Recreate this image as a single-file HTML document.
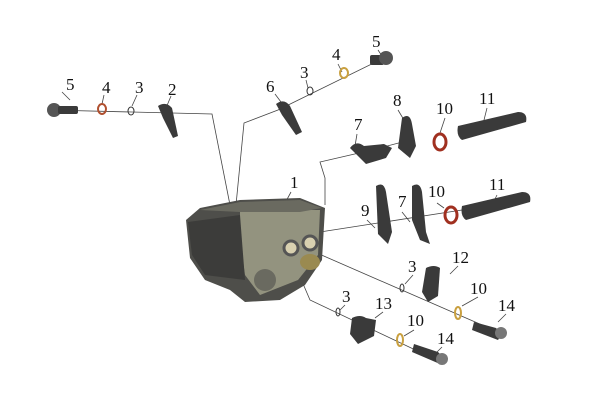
<!DOCTYPE html>
<html><head><style>
html,body{margin:0;padding:0;background:#fff;}
svg{display:block}
text{font-family:"Liberation Serif",serif;font-size:17px;fill:#111}
</style></head><body>
<svg width="600" height="413" viewBox="0 0 600 413" xmlns="http://www.w3.org/2000/svg">
<g stroke="#444" stroke-width="0.8" fill="none">
<polyline points="50,110 212,114 230,205"/>
<polyline points="392,54 278,110 244,123 236,205"/>
<polyline points="410,140 372,150 320,162 325,178 325,205"/>
<line x1="320" y1="232" x2="462" y2="210"/>
<line x1="310" y1="250" x2="505" y2="335"/>
<polyline points="298,272 310,300 445,364"/>
<line x1="62" y1="92" x2="70" y2="100"/><line x1="104" y1="95" x2="102" y2="104"/>
<line x1="137" y1="95" x2="132" y2="106"/><line x1="171" y1="96" x2="166" y2="108"/>
<line x1="275" y1="94" x2="281" y2="102"/><line x1="306" y1="80" x2="308" y2="88"/>
<line x1="338" y1="64" x2="342" y2="72"/><line x1="378" y1="50" x2="382" y2="56"/>
<line x1="291" y1="192" x2="284" y2="205"/><line x1="357" y1="134" x2="355" y2="146"/>
<line x1="398" y1="110" x2="404" y2="120"/><line x1="445" y1="118" x2="440" y2="133"/>
<line x1="487" y1="108" x2="484" y2="120"/><line x1="367" y1="220" x2="375" y2="228"/>
<line x1="402" y1="212" x2="410" y2="222"/><line x1="437" y1="203" x2="444" y2="208"/>
<line x1="497" y1="195" x2="492" y2="205"/><line x1="458" y1="266" x2="450" y2="274"/>
<line x1="413" y1="275" x2="405" y2="284"/><line x1="478" y1="297" x2="462" y2="306"/>
<line x1="506" y1="314" x2="498" y2="322"/><line x1="345" y1="305" x2="340" y2="310"/>
<line x1="383" y1="312" x2="375" y2="318"/><line x1="414" y1="330" x2="404" y2="336"/>
<line x1="442" y1="347" x2="437" y2="352"/>
</g>
<!-- cylinder head -->
<polygon points="186,220 200,208 240,200 300,198 325,208 322,260 305,285 280,300 245,302 230,290 205,280 190,258" fill="#4e4e4a"/>
<polygon points="240,210 320,210 318,255 298,280 260,295 245,275 240,240" fill="#93937f"/>
<polygon points="188,222 240,215 245,280 205,275 192,255" fill="#3c3c3a"/>
<polygon points="200,210 240,202 300,200 322,208 300,212 240,212" fill="#6a6a60"/>
<circle cx="291" cy="248" r="7" fill="#d8d0b0" stroke="#555" stroke-width="3"/>
<circle cx="310" cy="243" r="7" fill="#d8d0b0" stroke="#555" stroke-width="3"/>
<circle cx="265" cy="280" r="11" fill="#6a6a60"/>
<ellipse cx="310" cy="262" rx="10" ry="8" fill="#9a8a50"/>
<g fill="#3a3a3a">
<circle cx="54" cy="110" r="7" fill="#555"/><rect x="58" y="106" width="20" height="8" rx="2"/>
<path d="M158,106 q8,-5 14,2 l6,28 l-5,2 l-10,-20 z"/>
<path d="M276,104 q8,-6 14,2 l12,26 l-6,3 l-14,-20 z"/>
<rect x="370" y="55" width="14" height="10" rx="2"/><circle cx="386" cy="58" r="7" fill="#555"/>
<path d="M350,148 q6,-8 14,-2 l20,-2 l8,4 l-6,10 l-20,6 z"/>
<path d="M402,118 q8,-6 10,6 l4,22 l-6,12 l-12,-10 z"/>
<path d="M376,186 q8,-5 10,6 l6,40 l-4,12 l-10,-10 z"/>
<path d="M412,186 q8,-5 10,6 l4,40 l4,12 l-10,-4 l-8,-20 z"/>
<path d="M426,268 q8,-4 14,0 l-2,28 l-10,6 l-6,-10 z"/>
<path d="M352,318 q8,-4 14,0 l10,2 l-2,16 l-16,8 l-8,-10 z"/>
<path d="M458,126 l60,-14 q10,0 8,10 l-64,18 q-6,-4 -4,-14 z"/>
<path d="M462,206 l60,-14 q10,0 8,10 l-64,18 q-6,-4 -4,-14 z"/>
<path d="M474,322 l22,6 l6,6 l-4,6 l-26,-10 z"/><circle cx="501" cy="333" r="6" fill="#777"/>
<path d="M414,344 l24,8 l6,6 l-4,6 l-28,-12 z"/><circle cx="442" cy="359" r="6" fill="#777"/>
</g>
<g fill="none" stroke-width="2">
<ellipse cx="102" cy="109" rx="4" ry="5" stroke="#b05030"/>
<ellipse cx="131" cy="111" rx="3" ry="4" stroke="#333" stroke-width="1"/>
<ellipse cx="310" cy="91" rx="3" ry="4" stroke="#333" stroke-width="1"/>
<ellipse cx="344" cy="73" rx="4" ry="5" stroke="#c9a040"/>
<ellipse cx="440" cy="142" rx="6" ry="8" stroke="#a03020" stroke-width="3"/>
<ellipse cx="451" cy="215" rx="6" ry="8" stroke="#a03020" stroke-width="3"/>
<ellipse cx="458" cy="313" rx="3" ry="6" stroke="#c9a040"/>
<ellipse cx="402" cy="288" rx="2" ry="4" stroke="#333" stroke-width="1"/>
<ellipse cx="338" cy="312" rx="2" ry="4" stroke="#333" stroke-width="1"/>
<ellipse cx="400" cy="340" rx="3" ry="6" stroke="#c9a040"/>
</g>
<text x="66" y="90">5</text><text x="102" y="93">4</text><text x="135" y="93">3</text><text x="168" y="95">2</text>
<text x="266" y="92">6</text><text x="300" y="78">3</text><text x="332" y="60">4</text><text x="372" y="47">5</text>
<text x="290" y="188">1</text><text x="354" y="130">7</text><text x="393" y="106">8</text>
<text x="436" y="114">10</text><text x="479" y="104">11</text>
<text x="361" y="216">9</text><text x="398" y="207">7</text><text x="428" y="197">10</text><text x="489" y="190">11</text>
<text x="452" y="263">12</text><text x="408" y="272">3</text><text x="470" y="294">10</text><text x="498" y="311">14</text>
<text x="342" y="302">3</text><text x="375" y="309">13</text><text x="407" y="326">10</text><text x="437" y="344">14</text>
</svg>
</body></html>
